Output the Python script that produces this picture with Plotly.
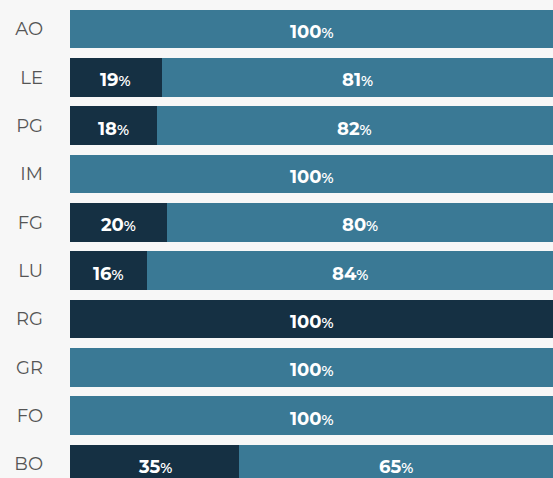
import plotly.graph_objects as go

categories = ["AO", "LE", "PG", "IM", "FG", "LU", "RG", "GR", "FO", "BO"]
dark_values = [0, 19, 18, 0, 20, 16, 100, 0, 0, 35]
light_values = [100, 81, 82, 100, 80, 84, 0, 100, 100, 65]

FONT = "Montserrat, Lato, Open Sans, sans-serif"

def label(v):
    return "<b>%d</b><span style='font-size:14px;font-weight:600'>%%</span>" % v

fig = go.Figure()
fig.add_trace(go.Bar(
    y=categories, x=dark_values, orientation="h", marker_color="#153043",
    marker_line_width=0, hoverinfo="skip"))
fig.add_trace(go.Bar(
    y=categories, x=light_values, orientation="h", marker_color="#3a7995",
    marker_line_width=0, hoverinfo="skip"))

annotations = []
for cat, d, l in zip(categories, dark_values, light_values):
    if d > 0:
        annotations.append(dict(x=d / 2, y=cat, text=label(d), showarrow=False,
                                yshift=-3, font=dict(color="white", size=18, family=FONT)))
    if l > 0:
        annotations.append(dict(x=d + l / 2, y=cat, text=label(l), showarrow=False,
                                yshift=-3, font=dict(color="white", size=18, family=FONT)))

fig.update_layout(
    width=553, height=478, barmode="stack", bargap=0.2,
    paper_bgcolor="#f7f7f7", plot_bgcolor="#f7f7f7",
    margin=dict(l=70, r=0, t=5, b=0), showlegend=False,
    annotations=annotations,
    xaxis=dict(range=[0, 100], visible=False, fixedrange=True),
    yaxis=dict(categoryorder="array", categoryarray=categories,
               range=[9.29, -0.5], showgrid=False, zeroline=False,
               showline=False, ticks="", ticklabelstandoff=26,
               tickfont=dict(size=18, color="#555555", family=FONT)),
)
fig.write_html("out.html", config={"displayModeBar": False},
               post_script="document.body.style.margin='0';document.body.style.background='#f7f7f7';")
